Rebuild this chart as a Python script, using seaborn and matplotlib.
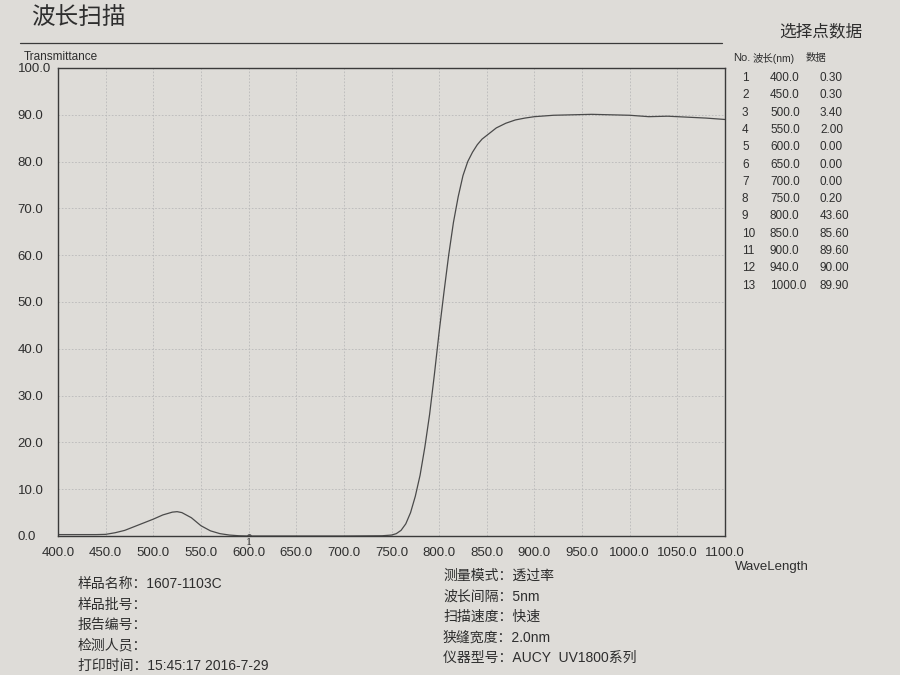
import matplotlib
matplotlib.use("Agg")
import matplotlib.pyplot as plt
from matplotlib.lines import Line2D
import seaborn as sns

# Scan curve
wavelength = [400, 420, 440, 450, 460, 470, 480, 490, 500, 510, 520, 525, 530, 540,
              550, 560, 570, 580, 590, 600, 650, 700, 740, 750, 755, 760, 765, 770,
              775, 780, 785, 790, 795, 800, 805, 810, 815, 820, 825, 830, 835, 840,
              845, 850, 860, 870, 880, 890, 900, 920, 940, 960, 980, 1000, 1020,
              1040, 1060, 1080, 1100]
transmittance = [0.3, 0.3, 0.3, 0.35, 0.7, 1.2, 2.0, 2.8, 3.6, 4.5, 5.1, 5.2, 5.0, 3.9,
                 2.2, 1.1, 0.5, 0.2, 0.05, 0.0, 0.0, 0.0, 0.05, 0.2, 0.5, 1.2, 2.6, 5.0,
                 8.5, 13.0, 19.0, 26.0, 34.5, 43.6, 52.0, 60.0, 67.0, 72.5, 77.0, 80.0,
                 82.0, 83.6, 84.8, 85.6, 87.2, 88.2, 88.9, 89.3, 89.6, 89.9, 90.0, 90.1,
                 90.0, 89.9, 89.6, 89.7, 89.5, 89.3, 89.0]

# Selected point table
table_no = [1, 2, 3, 4, 5, 6, 7, 8, 9, 10, 11, 12, 13]
table_wl = [400.0, 450.0, 500.0, 550.0, 600.0, 650.0, 700.0, 750.0, 800.0, 850.0,
            900.0, 940.0, 1000.0]
table_val = [0.30, 0.30, 3.40, 2.00, 0.00, 0.00, 0.00, 0.20, 43.60, 85.60, 89.60,
             90.00, 89.90]

marker_wl = 600
marker_val = 0.0

x_ticks = list(range(400, 1101, 50))
y_ticks = list(range(0, 101, 10))

info_left = ["样品名称：1607-1103C", "样品批号：", "报告编号：", "检测人员：",
             "打印时间：15:45:17 2016-7-29"]
info_right = ["测量模式：透过率", "波长间隔：5nm", "扫描速度：快速", "狭缝宽度：2.0nm",
              "仪器型号：AUCY  UV1800系列"]

paper = "#dedcd8"
ink = "#2e2e2e"

sns.set_theme(style="white")
plt.rcParams["font.family"] = ["Liberation Sans", "Noto Sans CJK SC", "DejaVu Sans"]

W, H = 900, 675
fig = plt.figure(figsize=(9, 6.75), dpi=100, facecolor=paper)


def fx(x):
    return x / W


def fy(y):
    return 1 - y / H


left, right, top, bottom = 58, 725, 68, 536
ax = fig.add_axes([fx(left), fy(bottom), (right - left) / W, (bottom - top) / H])
ax.set_facecolor(paper)

sns.lineplot(x=wavelength, y=transmittance, ax=ax, color="#4a4a4a", linewidth=0.9)

# marker "1"
ax.plot([marker_wl], [marker_val], "o", color="#555555", markersize=2.5)
ax.annotate("1", (marker_wl, marker_val), xytext=(0, -5), textcoords="offset points",
            ha="center", va="center", fontsize=7, color=ink, family="DejaVu Serif")

ax.set_xlim(400, 1100)
ax.set_ylim(0, 100)
ax.set_xticks(x_ticks)
ax.set_xticklabels([f"{v:.1f}" for v in x_ticks])
ax.set_yticks(y_ticks)
ax.set_yticklabels([f"{v:.1f}" for v in y_ticks])
ax.tick_params(axis="x", length=0, pad=8, labelsize=9.5, labelcolor=ink)
ax.tick_params(axis="y", length=0, pad=29, labelsize=9.5, labelcolor=ink)
for lab in ax.get_yticklabels():
    lab.set_horizontalalignment("left")

ax.grid(True, color="#b9b9b9", linewidth=0.6, linestyle=(0, (2, 2)))
for s in ax.spines.values():
    s.set_visible(True)
    s.set_color("#3a3a3a")
    s.set_linewidth(1.0)

ax.set_xlabel("")
ax.set_ylabel("")

# header and labels
fig.text(fx(31), fy(18), "波长扫描", fontsize=17, color=ink, va="center", ha="left")
fig.add_artist(Line2D([fx(20), fx(722)], [fy(43), fy(43)], color="#3a3a3a", linewidth=0.9))
fig.text(fx(862), fy(31), "选择点数据", fontsize=12, color=ink, va="center", ha="right")
fig.text(fx(24), fy(57), "Transmittance", fontsize=8.5, color=ink, va="center", ha="left")
fig.text(fx(735), fy(567), "WaveLength", fontsize=9.5, color=ink, va="center", ha="left")

# point table
fig.text(fx(733), fy(58), "No.", fontsize=8, color=ink, va="center", ha="left")
fig.text(fx(753), fy(58), "波长(nm)", fontsize=7.5, color=ink, va="center", ha="left")
fig.text(fx(806), fy(58), "数据", fontsize=7.5, color=ink, va="center", ha="left")
for i, (n, w, v) in enumerate(zip(table_no, table_wl, table_val)):
    y = 78 + i * 17.3
    fig.text(fx(742), fy(y), str(n), fontsize=8.5, color=ink, va="center", ha="left")
    fig.text(fx(770), fy(y), f"{w:.1f}", fontsize=8.5, color=ink, va="center", ha="left")
    fig.text(fx(820), fy(y), f"{v:.2f}", fontsize=8.5, color=ink, va="center", ha="left")

# footer info
for i, t in enumerate(info_left):
    fig.text(fx(78), fy(584 + i * 20.5), t, fontsize=10, color=ink, va="center", ha="left")
for i, t in enumerate(info_right):
    fig.text(fx(443), fy(576 + i * 20.5), t, fontsize=10, color=ink, va="center", ha="left")

fig.savefig("out.png", dpi=100, facecolor=paper)
